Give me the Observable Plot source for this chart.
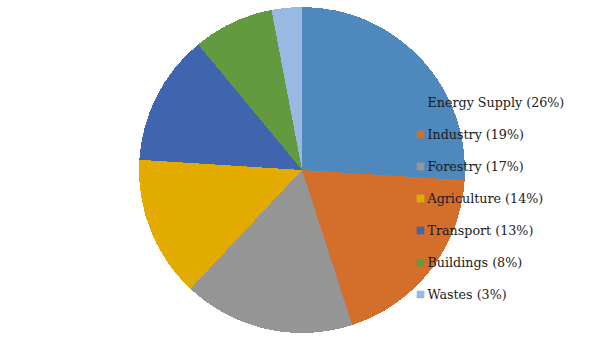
<!DOCTYPE html>
<html>
<head>
<meta charset="utf-8">
<script src="https://cdn.jsdelivr.net/npm/d3@7"></script>
<script src="https://cdn.jsdelivr.net/npm/@observablehq/plot@0.6"></script>
<style>
  html, body { margin: 0; padding: 0; background: #ffffff; }
  #chart svg { display: block; }
</style>
</head>
<body>
<div id="chart"></div>
<script>
const categories = ["Energy Supply", "Industry", "Forestry", "Agriculture", "Transport", "Buildings", "Wastes"];
const shares = [26, 19, 17, 14, 13, 8, 3];
const palette = ["#4F88BD", "#D46E2B", "#959595", "#E3AA00", "#3E65AD", "#63993F", "#99B9E2"];

const rows = categories.map((name, i) => ({name, share: shares[i], label: `${name} (${shares[i]}%)`}));

const W = 605, H = 340;

const colorScale = Plot.scale({color: {type: "ordinal", domain: categories, range: palette}});

function pieMark(index, scales, values, dimensions) {
  const cx = dimensions.width / 2 - 0.5;
  const cy = dimensions.height / 2;
  const r = dimensions.height / 2 - 7;
  const arcs = d3.pie().sort(null).value(d => d.share)(rows);
  const arc = d3.arc().innerRadius(0).outerRadius(r);
  const g = d3.create("svg:g").attr("transform", `translate(${cx},${cy})`);
  g.selectAll("path")
    .data(arcs)
    .join("path")
    .attr("d", arc)
    .attr("fill", d => colorScale.apply(d.data.name))
    .attr("shape-rendering", "crispEdges");
  return g.node();
}

const chart = Plot.plot({
  width: W,
  height: H,
  margin: 0,
  style: {background: "#ffffff", fontFamily: "'DejaVu Serif', serif"},
  x: {type: "identity", axis: null},
  y: {type: "point", domain: categories, range: [102, 294], padding: 0, axis: null},
  color: {type: "ordinal", domain: categories, range: palette},
  marks: [
    pieMark,
    Plot.dot(rows, {x: () => 420, y: "name", fill: "name", symbol: "square", r: 4.3, stroke: null}),
    Plot.text(rows, {x: () => 427, y: "name", text: "label", textAnchor: "start", fill: "#1a1a1a", fontSize: 12.7})
  ]
});

document.getElementById("chart").appendChild(chart);
</script>
</body>
</html>
